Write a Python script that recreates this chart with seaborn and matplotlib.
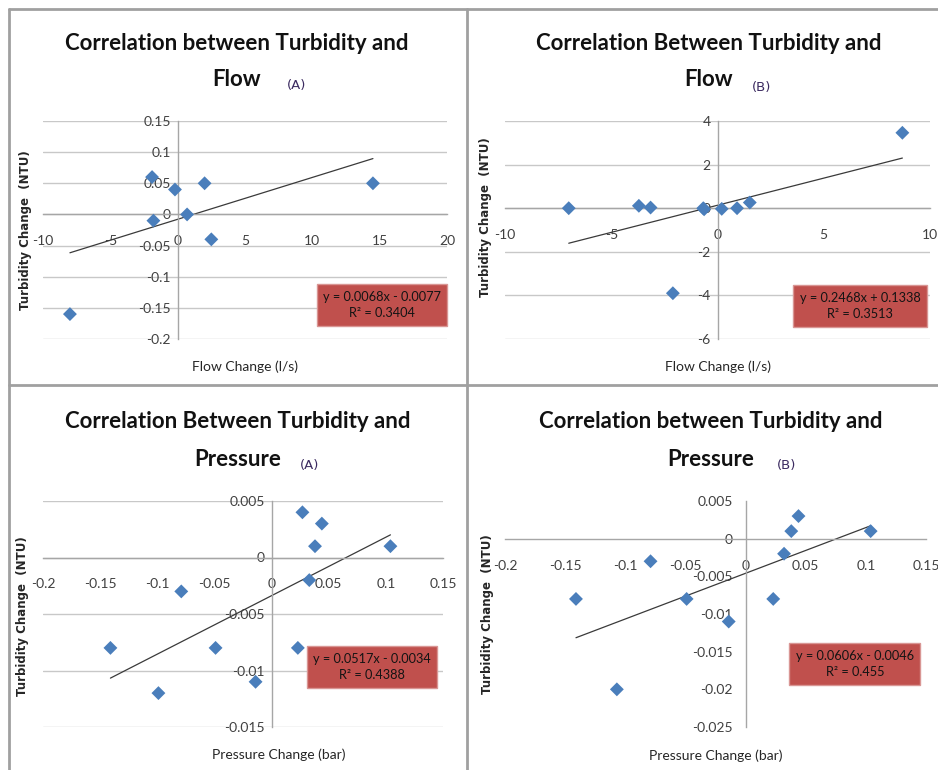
import numpy as np
import pandas as pd
import seaborn as sns
import matplotlib.pyplot as plt
from matplotlib.lines import Line2D
from matplotlib.ticker import FuncFormatter

# data
flow_a_x = [-1.9, -0.2, 2.0, -1.8, 0.7, 2.5, 14.5, -8.0]
flow_a_y = [0.06, 0.04, 0.05, -0.01, 0.0, -0.04, 0.05, -0.16]

flow_b_x = [-7.0, -3.7, -3.15, -2.1, -0.67, -0.63, 0.2, 0.92, 1.52, 8.7]
flow_b_y = [0.0, 0.11, 0.03, -3.9, 0.0, -0.05, -0.03, 0.0, 0.26, 3.46]

pres_a_x = [0.027, 0.044, 0.038, 0.104, 0.033, -0.079, -0.141, -0.049, 0.023, -0.099, -0.014]
pres_a_y = [0.004, 0.003, 0.001, 0.001, -0.002, -0.003, -0.008, -0.008, -0.008, -0.012, -0.011]

pres_b_x = [0.044, 0.038, 0.104, 0.032, -0.079, -0.141, -0.049, 0.023, -0.014, -0.107]
pres_b_y = [0.003, 0.001, 0.001, -0.002, -0.003, -0.008, -0.008, -0.008, -0.011, -0.02]

equations = ["y = 0.0068x - 0.0077\nR\u00b2 = 0.3404",
             "y = 0.2468x + 0.1338\nR\u00b2 = 0.3513",
             "y = 0.0517x - 0.0034\nR\u00b2 = 0.4388",
             "y = 0.0606x - 0.0046\nR\u00b2 = 0.455"]

sns.set_style("white")
plt.rcParams['font.family'] = ['Lato', 'DejaVu Sans']
plt.rcParams['axes.unicode_minus'] = False

W, H = 938, 770
fig = plt.figure(figsize=(W / 100, H / 100), dpi=100)

def px_box(l, t, r, b):
    return [l / W, 1 - b / H, (r - l) / W, (b - t) / H]

def fmt(v, pos):
    v = round(v, 6)
    if v == 0:
        return "0"
    return f"{v:g}"

def panel(rect, x, y, xlim, xstep, ylim, ystep, xlabel, eq, eq_pos, ylab_pos, xlab_pos, grid=True):
    ax = fig.add_axes(rect)
    df = pd.DataFrame({'x': x, 'y': y})
    sns.regplot(data=df, x='x', y='y', scatter=False, ci=None, ax=ax,
                line_kws={'color': '#3a3a3a', 'lw': 0.9})
    sns.scatterplot(data=df, x='x', y='y', marker='D', s=50, color='#4A7EBB',
                    edgecolor='none', ax=ax, zorder=5)
    ax.set_xlim(xlim)
    ax.set_ylim(ylim)
    ax.set_xticks(np.arange(xlim[0], xlim[1] + xstep / 2, xstep))
    ax.set_yticks(np.arange(ylim[0], ylim[1] + ystep / 2, ystep))
    ax.xaxis.set_major_formatter(FuncFormatter(fmt))
    ax.yaxis.set_major_formatter(FuncFormatter(fmt))
    ax.spines['left'].set_position(('data', 0))
    ax.spines['bottom'].set_position(('data', 0))
    ax.spines['top'].set_visible(False)
    ax.spines['right'].set_visible(False)
    for s in ['left', 'bottom']:
        ax.spines[s].set_color('#A6A6A6')
        ax.spines[s].set_linewidth(1.0)
    ax.tick_params(axis='x', direction='out', length=4, width=0.8, color='#A6A6A6',
                   pad=11, labelsize=10, labelcolor='#404040')
    ax.tick_params(axis='y', direction='out', length=4 if not grid else 0, width=0.8,
                   color='#A6A6A6', pad=5, labelsize=10, labelcolor='#404040')
    if grid:
        ax.yaxis.grid(True, color='#C8C8C8', lw=1.0)
        ax.set_axisbelow(True)
    ax.set_xlabel(xlabel, fontsize=10, color='#262626')
    ax.set_ylabel('Turbidity Change  (NTU)', fontsize=8.5, fontweight='bold',
                  family=['DejaVu Sans'], color='#262626')
    ax.xaxis.set_label_coords(xlab_pos[0], xlab_pos[1])
    ax.yaxis.set_label_coords(ylab_pos[0], ylab_pos[1])
    ax.text(eq_pos[0], eq_pos[1], eq, transform=ax.transAxes, ha='center', va='center',
            fontsize=9.2, color='#141414', linespacing=1.45, zorder=6,
            bbox=dict(boxstyle='square,pad=0.5', facecolor='#C0504D', edgecolor='#D99694', lw=1))
    return ax

panel(px_box(43, 121, 447, 339), flow_a_x, flow_a_y, (-10, 20), 5, (-0.2, 0.15), 0.05,
      'Flow Change (l/s)', equations[0], (0.839, 0.156), (-0.027, 0.5), (0.5, -0.10))
panel(px_box(505, 121, 930, 339), flow_b_x, flow_b_y, (-10, 10), 5, (-6, 4), 2,
      'Flow Change (l/s)', equations[1], (0.835, 0.151), (-0.031, 0.56), (0.5, -0.10))
panel(px_box(43, 501, 443, 727), pres_a_x, pres_a_y, (-0.2, 0.15), 0.05, (-0.015, 0.005), 0.005,
      'Pressure Change (bar)', equations[2], (0.8225, 0.265), (-0.035, 0.49), (0.59, -0.093))
panel(px_box(505, 501, 926, 727), pres_b_x, pres_b_y, (-0.2, 0.15), 0.05, (-0.025, 0.005), 0.005,
      'Pressure Change (bar)', equations[3], (0.831, 0.279), (-0.026, 0.5), (0.5, -0.10), grid=False)

# titles, two lines each plus the (A)/(B) tag
titles = [
    ("Correlation between Turbidity and", "Flow", "(A)", 237, 43, 80, 297, 86),
    ("Correlation Between Turbidity and", "Flow", "(B)", 709, 43, 80, 762, 88),
    ("Correlation Between Turbidity and", "Pressure", "(A)", 238, 422, 460, 310, 465),
    ("Correlation between Turbidity and", "Pressure", "(B)", 711, 422, 460, 787, 465),
]
for l1, l2, tag, cx, y1, y2, tx, ty in titles:
    fig.text(cx / W, 1 - y1 / H, l1, ha='center', va='center', fontsize=16, fontweight='bold', color='#111111')
    fig.text(cx / W, 1 - y2 / H, l2, ha='center', va='center', fontsize=16, fontweight='bold', color='#111111')
    fig.text(tx / W, 1 - ty / H, tag, ha='center', va='center', fontsize=9.5,
             family=['DejaVu Sans'], color='#3b2a60')

# panel frame lines
frame = dict(color='#A0A0A0', lw=2.0, transform=fig.transFigure)
fig.add_artist(Line2D([9 / W, 1], [1 - 9 / H, 1 - 9 / H], **frame))
fig.add_artist(Line2D([9 / W, 9 / W], [0, 1 - 9 / H], **frame))
fig.add_artist(Line2D([467 / W, 467 / W], [0, 1 - 9 / H], **frame))
fig.add_artist(Line2D([9 / W, 1], [1 - 385 / H, 1 - 385 / H], **frame))

plt.savefig('out.png', dpi=100)
